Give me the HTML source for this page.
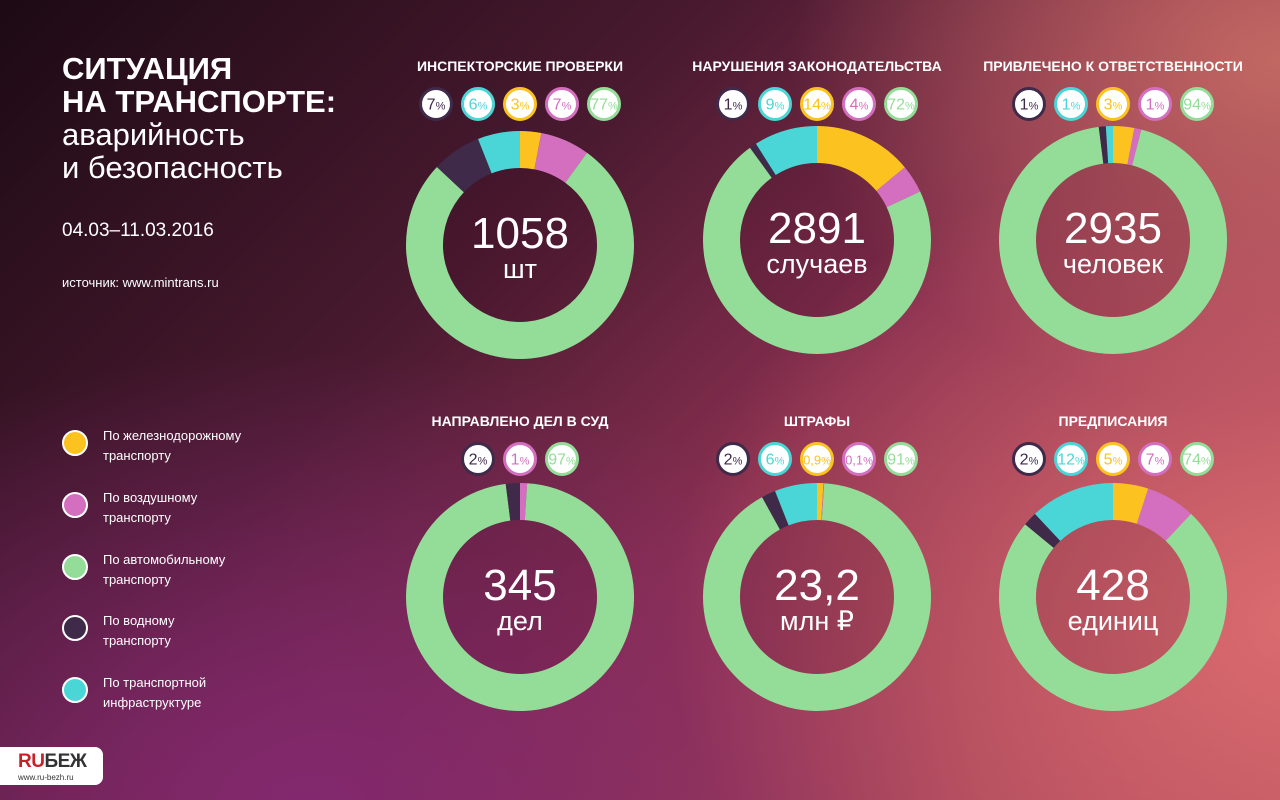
<!DOCTYPE html>
<html><head><meta charset="utf-8"><style>
html,body{margin:0;padding:0}
body{width:1280px;height:800px;overflow:hidden;position:relative;font-family:"Liberation Sans","DejaVu Sans",sans-serif;color:#fff;
background:
radial-gradient(ellipse 900px 700px at 1300px 620px, rgba(222,110,112,0.95), rgba(222,110,112,0) 70%),
radial-gradient(ellipse 700px 500px at 1280px 60px, rgba(200,110,100,0.9), rgba(200,110,100,0) 70%),
radial-gradient(ellipse 900px 600px at 300px 800px, rgba(130,40,110,1), rgba(130,40,110,0) 75%),
linear-gradient(135deg,#1c0a14 0%,#4a1a30 35%,#8a3050 60%,#b04a5c 100%);}
.leg{position:absolute;left:62px;width:26px;height:26px;border-radius:50%;border:2px solid #fff;box-sizing:border-box}
.lt{position:absolute;left:103px;font-size:13px;line-height:20px}
</style></head><body>
<div style="position:absolute;left:62px;top:52px;font-size:31px;font-weight:bold;line-height:33px">СИТУАЦИЯ<br>НА ТРАНСПОРТЕ:<br><span style="font-weight:normal">аварийность<br>и безопасность</span></div>
<div style="position:absolute;left:62px;top:220px;font-size:19px">04.03–11.03.2016</div>
<div style="position:absolute;left:62px;top:275px;font-size:13px">источник: www.mintrans.ru</div>

<div class="leg" style="top:430px;background:#fcc21f"></div><div class="lt" style="top:426px">По железнодорожному<br>транспорту</div>
<div class="leg" style="top:492px;background:#d46fc0"></div><div class="lt" style="top:488px">По воздушному<br>транспорту</div>
<div class="leg" style="top:554px;background:#93dd98"></div><div class="lt" style="top:550px">По автомобильному<br>транспорту</div>
<div class="leg" style="top:615px;background:#3f2a4a"></div><div class="lt" style="top:611px">По водному<br>транспорту</div>
<div class="leg" style="top:677px;background:#4ad6d6"></div><div class="lt" style="top:673px">По транспортной<br>инфраструктуре</div>

<div style="position:absolute;left:0;top:747px;width:103px;height:38px;background:#fff;border-radius:0 8px 8px 0">
<div style="position:absolute;left:18px;top:4px;font-size:19px;font-weight:bold;color:#333;letter-spacing:-0.5px"><span style="color:#c8202a">RU</span>БЕЖ</div>
<div style="position:absolute;left:18px;top:26px;font-size:8px;color:#333">www.ru-bezh.ru</div></div>

<svg id="s" width="1280" height="800" style="position:absolute;left:0;top:0"></svg>
<script>
var C={y:"#fcc21f",p:"#d46fc0",g:"#93dd98",d:"#3f2a4a",c:"#4ad6d6"};
var charts=[
{x:520,y:245,t:"ИНСПЕКТОРСКИЕ ПРОВЕРКИ",n:"1058",u:"шт",seg:[["y",3],["p",7],["g",77],["d",7],["c",6]],b:[["d","7"],["c","6"],["y","3"],["p","7"],["g","77"]]},
{x:817,y:240,t:"НАРУШЕНИЯ ЗАКОНОДАТЕЛЬСТВА",n:"2891",u:"случаев",seg:[["y",14],["p",4],["g",72],["d",1],["c",9]],b:[["d","1"],["c","9"],["y","14"],["p","4"],["g","72"]]},
{x:1113,y:240,t:"ПРИВЛЕЧЕНО К ОТВЕТСТВЕННОСТИ",n:"2935",u:"человек",seg:[["y",3],["p",1],["g",94],["d",1],["c",1]],b:[["d","1"],["c","1"],["y","3"],["p","1"],["g","94"]]},
{x:520,y:597,t:"НАПРАВЛЕНО ДЕЛ В СУД",n:"345",u:"дел",seg:[["p",1],["g",97],["d",2]],b:[["d","2"],["p","1"],["g","97"]]},
{x:817,y:597,t:"ШТРАФЫ",n:"23,2",u:"млн ₽",seg:[["y",0.9],["p",0.1],["g",91],["d",2],["c",6]],b:[["d","2"],["c","6"],["y","0,9"],["p","0,1"],["g","91"]]},
{x:1113,y:597,t:"ПРЕДПИСАНИЯ",n:"428",u:"единиц",seg:[["y",5],["p",7],["g",74],["d",2],["c",12]],b:[["d","2"],["c","12"],["y","5"],["p","7"],["g","74"]]}];
var h="",RO=114,RI=77;
function pt(cx,cy,r,a){return (cx+r*Math.sin(a)).toFixed(2)+","+(cy-r*Math.cos(a)).toFixed(2);}
charts.forEach(function(c){
 var ty=c.y<400?66:421;
 h+='<text x="'+c.x+'" y="'+(ty+5)+'" text-anchor="middle" font-size="14" font-weight="bold" fill="#fff" font-family="Liberation Sans,sans-serif">'+c.t+'</text>';
 var by=ty+38,n=c.b.length,sx=c.x-(n-1)*21;
 c.b.forEach(function(b,j){var bx=sx+j*42;
  h+='<circle cx="'+bx+'" cy="'+by+'" r="15.5" fill="#fff" stroke="'+C[b[0]]+'" stroke-width="3"/>';
  var fs=b[1].length>2?13:16;
  h+='<text x="'+bx+'" y="'+(by+5.5)+'" text-anchor="middle" font-size="'+fs+'" fill="'+C[b[0]]+'" font-family="Liberation Sans,sans-serif">'+b[1]+'<tspan font-size="11">%</tspan></text>';});
 var tot=c.seg.reduce(function(a,s){return a+s[1]},0),acc=0;
 c.seg.forEach(function(s){var a0=acc/tot*2*Math.PI,a1=(acc+s[1])/tot*2*Math.PI;acc+=s[1];
  var lg=(a1-a0)>Math.PI?1:0;
  h+='<path d="M'+pt(c.x,c.y,RO,a0)+' A'+RO+','+RO+' 0 '+lg+' 1 '+pt(c.x,c.y,RO,a1)+' L'+pt(c.x,c.y,RI,a1)+' A'+RI+','+RI+' 0 '+lg+' 0 '+pt(c.x,c.y,RI,a0)+' Z" fill="'+C[s[0]]+'"/>';});
 h+='<circle cx="'+c.x+'" cy="'+c.y+'" r="77" fill="rgba(60,10,30,0.12)"/>';
 h+='<text x="'+c.x+'" y="'+(c.y+3)+'" text-anchor="middle" font-size="44" fill="#fff" font-family="Liberation Sans,sans-serif">'+c.n+'</text>';
 h+='<text x="'+c.x+'" y="'+(c.y+33)+'" text-anchor="middle" font-size="27" fill="#fff" font-family="Liberation Sans,sans-serif">'+c.u+'</text>';
});
document.getElementById("s").innerHTML=h;
</script>
</body></html>
